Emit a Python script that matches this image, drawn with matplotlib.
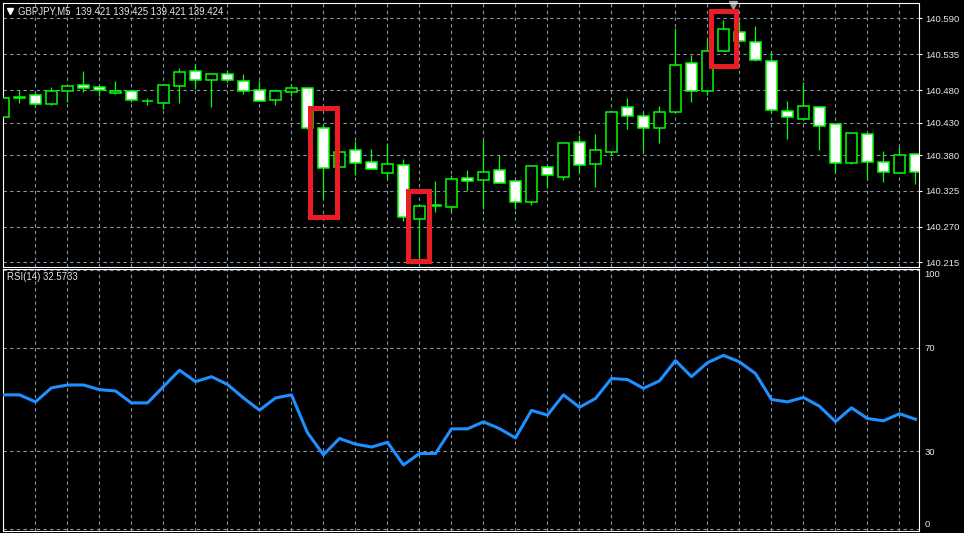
import numpy as np
import matplotlib
matplotlib.use("Agg")
import matplotlib.pyplot as plt
from matplotlib.patches import Rectangle

# GBPJPY M5 candles (open, high, low, close), oldest first
opens = [140.439, 140.4675, 140.4728, 140.459, 140.479, 140.4873, 140.4842, 140.4759, 140.478, 140.4631,
         140.4605, 140.4867, 140.5088, 140.495, 140.5042, 140.4934, 140.4796, 140.4642, 140.4765, 140.4836,
         140.422, 140.362, 140.3873, 140.3688, 140.3519, 140.3642, 140.2811, 140.301, 140.2996, 140.3442,
         140.3411, 140.3565, 140.3396, 140.3073, 140.3611, 140.3466, 140.3996, 140.3657, 140.3851, 140.4534,
         140.4396, 140.422, 140.4466, 140.5211, 140.478, 140.5405, 140.5688, 140.5534, 140.5242, 140.4473,
         140.435, 140.4534, 140.4273, 140.3673, 140.4119, 140.3688, 140.3528, 140.382]
highs = [140.468, 140.480, 140.475, 140.4842, 140.486, 140.5097, 140.485, 140.4939, 140.4785, 140.468,
         140.4877, 140.5134, 140.520, 140.5062, 140.5108, 140.5047, 140.4934, 140.4811, 140.4893, 140.484,
         140.4262, 140.3877, 140.4011, 140.3893, 140.398, 140.3734, 140.305, 140.340, 140.3488, 140.357,
         140.4031, 140.3796, 140.340, 140.3627, 140.3636, 140.398, 140.4103, 140.4123, 140.4457, 140.4677,
         140.4466, 140.4554, 140.5759, 140.5339, 140.558, 140.5877, 140.586, 140.5785, 140.5396, 140.4631,
         140.4919, 140.455, 140.428, 140.4154, 140.412, 140.3862, 140.3923, 140.383]
lows = [140.438, 140.4605, 140.4543, 140.457, 140.462, 140.4774, 140.4713, 140.4739, 140.462, 140.457,
        140.4513, 140.4605, 140.482, 140.4543, 140.4923, 140.4743, 140.4627, 140.4574, 140.4713, 140.420,
        140.3123, 140.360, 140.3497, 140.358, 140.3451, 140.2789, 140.222, 140.2928, 140.2928, 140.3251,
        140.2965, 140.3365, 140.2965, 140.3036, 140.3297, 140.342, 140.3523, 140.3313, 140.380, 140.4205,
        140.3851, 140.399, 140.4462, 140.462, 140.4723, 140.540, 140.554, 140.5247, 140.4442, 140.4051,
        140.434, 140.3882, 140.3519, 140.366, 140.3426, 140.339, 140.352, 140.3359]
closes = [140.467, 140.4685, 140.458, 140.478, 140.4857, 140.4836, 140.4796, 140.479, 140.4642, 140.4631,
          140.4873, 140.5073, 140.495, 140.5042, 140.495, 140.478, 140.4627, 140.478, 140.4827, 140.4211,
          140.3596, 140.3842, 140.3673, 140.358, 140.3657, 140.2842, 140.3011, 140.303, 140.3426, 140.3396,
          140.3534, 140.3365, 140.3073, 140.3627, 140.3488, 140.398, 140.3642, 140.3873, 140.4457, 140.4405,
          140.4211, 140.4457, 140.518, 140.478, 140.5396, 140.5734, 140.555, 140.5267, 140.4488, 140.438,
          140.455, 140.4251, 140.3682, 140.4134, 140.3697, 140.3543, 140.3796, 140.3543]

rsi = [51.8, 51.8, 49.1, 54.5, 55.6, 55.6, 53.8, 53.3, 48.7, 48.7,
       55.0, 61.3, 56.9, 58.8, 55.8, 50.6, 45.9, 50.6, 51.8, 37.2,
       28.7, 35.0, 32.8, 31.7, 33.5, 24.8, 29.2, 29.2, 38.7, 38.7,
       41.4, 38.8, 35.2, 45.8, 44.0, 51.8, 47.0, 50.4, 58.1, 57.7,
       54.3, 57.2, 65.0, 58.8, 64.2, 67.0, 64.5, 60.0, 50.0, 49.1,
       50.8, 47.4, 41.5, 46.8, 42.7, 41.8, 44.5, 42.4]

price_ticks = [140.215, 140.270, 140.325, 140.380, 140.430, 140.480, 140.535, 140.590]
rsi_ticks = [0, 30, 70, 100]

# highlighted bars: (first bar, last bar, low price, high price)
highlights = [(19.14, 20.875, 140.2854, 140.4527),
              (25.31, 26.625, 140.2162, 140.3239),
              (44.25, 45.81, 140.5167, 140.6023)]

header = "GBPJPY,M5  139.421 139.425 139.421 139.424"
rsi_label = "RSI(14) 32.5733"

BG = "black"
CANDLE = "#00ff00"
GRID = "#8797a8"
TXT = "#e6e6e6"
FONT = "Liberation Sans"

o = np.array(opens)
h = np.array(highs)
l = np.array(lows)
c = np.array(closes)
idx = np.arange(len(o))

fig = plt.figure(figsize=(9.64, 5.33), dpi=100, facecolor=BG)
W, H = 964, 533
ax = fig.add_axes([2.7 / W, 1 - 266.7 / H, (919 - 2.7) / W, (266.7 - 2.7) / H])
ax2 = fig.add_axes([2.7 / W, 1 - 530.5 / H, (919 - 2.7) / W, (530.5 - 268.7) / H])

for a in (ax, ax2):
    a.set_facecolor(BG)
    for s in a.spines.values():
        s.set_color("white")
        s.set_linewidth(0.8)
    a.set_xlim(-0.05, 57.22)
    a.set_xticks(range(2, 57, 2))
    a.set_xticklabels([])
    a.yaxis.tick_right()
    a.grid(True, which="major", color=GRID, linestyle=(0, (3, 3)), linewidth=0.8)
    a.set_axisbelow(True)

# candles
ax.vlines(idx, l, h, color=CANDLE, linewidth=0.9, zorder=2)
fills = ["black" if cc >= oo else "white" for oo, cc in zip(o, c)]
ax.bar(idx, np.abs(c - o), bottom=np.minimum(o, c), width=0.63, color=fills,
       edgecolor=CANDLE, linewidth=1.1, zorder=3)

for x0, x1, y0, y1 in highlights:
    ax.add_patch(Rectangle((x0, y0), x1 - x0, y1 - y0, fill=False,
                           edgecolor="#ec1c24", linewidth=3.6, zorder=5))

ax.set_ylim(140.2082, 140.6143)
ax.set_yticks(price_ticks)
ax.set_yticklabels([f"{t:.3f}" for t in price_ticks])
ax.tick_params(axis="x", length=0)
ax.tick_params(axis="y", colors="white", length=2.2, width=0.8, pad=2.2, labelsize=6.8)
for t in ax.get_yticklabels():
    t.set_fontfamily(FONT)
    t.set_color(TXT)

ax.plot([0.0076], [0.967], marker="v", color="white", markersize=4.5,
        transform=ax.transAxes, linestyle="none")
ax.text(0.017, 0.965, header, transform=ax.transAxes, color=TXT,
        fontsize=6.9, fontfamily=FONT, va="center", ha="left")
ax.plot([45.6], [0.99], marker="v", color="#9a9a9a", markersize=6,
        transform=ax.get_xaxis_transform(), clip_on=False, linestyle="none")

# RSI panel
ax2.plot(idx, rsi, color="#1e90ff", linewidth=2.2, zorder=3)
ax2.set_ylim(-0.46, 100.4)
ax2.set_yticks(rsi_ticks)
ax2.set_yticklabels([str(t) for t in rsi_ticks])
ax2.tick_params(axis="y", colors="white", length=0, pad=4, labelsize=6.8)
labels = ax2.get_yticklabels()
for t in labels:
    t.set_fontfamily(FONT)
    t.set_color(TXT)
labels[0].set_verticalalignment("bottom")
labels[-1].set_verticalalignment("top")
ax2.set_xticks(range(4, 57, 4), minor=True)
ax2.tick_params(axis="x", which="major", length=0)
ax2.tick_params(axis="x", which="minor", colors="white", length=2.5, width=0.8)
ax2.text(0.005, 0.967, rsi_label, transform=ax2.transAxes, color=TXT,
         fontsize=6.9, fontfamily=FONT, va="center", ha="left")

fig.savefig("out.png", dpi=100, facecolor=BG)
